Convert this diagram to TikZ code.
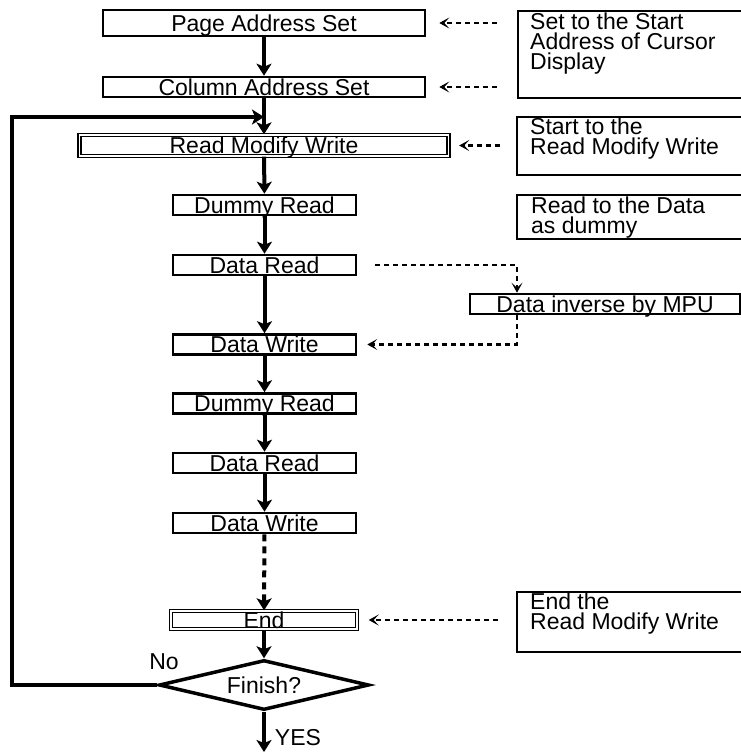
\documentclass[tikz,border=0pt]{standalone}
\usepackage{fontspec}
\setmainfont{Liberation Sans}
\usetikzlibrary{
		arrows.meta,
		shapes.geometric,
		positioning
	}
\newcommand{\chartfont}{\fontsize{23}{23}\selectfont}
\tikzset{
		>={Stealth[length=12pt,width=15pt,inset=3pt]},
		stepbox/.style={draw, line width=2.6pt, inner sep=0pt,
			text height=16.5pt, text depth=0pt, font=\chartfont},
		twinbox/.style={stepbox, double, line width=1.4pt, double distance=1.6pt},
		notebox/.style={draw, line width=2.4pt, anchor=north west, inner sep=0pt},
		notetext/.style={anchor=north west, align=left, inner sep=0pt,
			font=\fontsize{23}{20}\selectfont},
		flow/.style={->, line width=4pt},
		hint/.style={-{Stealth[length=10pt,width=11pt,inset=5pt]},
			line width=2.5pt, dash pattern=on 5pt off 4pt}
	}

\begin{document}
\begin{tikzpicture}[x=1pt, y=-1pt]
          \path[use as bounding box, clip] (0,0) rectangle (741,752);

          % main column
          \node[stepbox, minimum width=322pt, minimum height=26pt] (page) at (264,23) {Page Address Set};
          \node[stepbox, minimum width=322pt, minimum height=20pt] (column) at (264,87) {Column Address Set};
          \node[twinbox, minimum width=369pt, minimum height=21pt] (rmw) at (264,145.5) {Read Modify Write};
          \node[stepbox, minimum width=183pt, minimum height=20pt] (dummy1) at (264.5,205) {Dummy Read};
          \node[stepbox, minimum width=183pt, minimum height=20pt] (read1) at (264.5,265) {Data Read};
          \node[stepbox, minimum width=183pt, minimum height=20pt] (write1) at (264.5,344.5) {Data Write};
          \node[stepbox, minimum width=183pt, minimum height=20pt] (dummy2) at (264.5,403.5) {Dummy Read};
          \node[stepbox, minimum width=183pt, minimum height=20pt] (read2) at (264.5,463) {Data Read};
          \node[stepbox, minimum width=183pt, minimum height=20pt] (write2) at (264.5,523) {Data Write};
          \node[twinbox, minimum width=186pt, minimum height=18pt] (stop) at (264,620) {End};
          \node[diamond, draw, line width=3.5pt, aspect=4.2, inner sep=0pt,
                minimum width=210pt, minimum height=50pt, font=\chartfont] (finish) at (264,685) {Finish?};
          \node[stepbox, minimum width=270pt, minimum height=20pt] (mpu) at (605,304) {Data inverse by MPU};

          \coordinate (merge) at (264,117);
          \coordinate (back) at (12,117);
          \coordinate (exit) at (264,752);

          \node[font=\chartfont, inner sep=0pt] (nolabel) at (164,662) {No};
          \node[font=\chartfont, inner sep=0pt] (yeslabel) at (298,738) {YES};

          % notes on the right
          \node[notebox, minimum width=250pt, minimum height=87pt] (note1) at (517,10) {};
          \node[notebox, minimum width=250pt, minimum height=58pt] (note2) at (516,116) {};
          \node[notebox, minimum width=250pt, minimum height=44pt] (note3) at (516,194) {};
          \node[notebox, minimum width=250pt, minimum height=60pt] (note4) at (516,591) {};

          \node[notetext] (text1) at ([xshift=13pt,yshift=-3pt]note1.north west)
               {Set to the Start\\Address of Cursor\\Display};
          \node[notetext] (text2) at ([xshift=14pt,yshift=-2pt]note2.north west) {Start to the\\Read Modify Write};
          \node[notetext] (text3) at ([xshift=15pt,yshift=-3pt]note3.north west) {Read to the Data\\as dummy};
          \node[notetext] (text4) at ([xshift=14pt,yshift=-2pt]note4.north west) {End the\\Read Modify Write};

          % flow
          \draw[flow] (page) -- (column);
          \draw[flow] (column) -- (rmw);
          \draw[flow] (rmw) -- (dummy1);
          \draw[flow] (dummy1) -- (read1);
          \draw[flow] (read1) -- (write1);
          \draw[flow] (write1) -- (dummy2);
          \draw[flow] (dummy2) -- (read2);
          \draw[flow] (read2) -- (write2);
          \draw[flow, dash pattern=on 7pt off 5pt] (write2) -- (stop);
          \draw[flow] (stop) -- (finish);
          \draw[flow] (finish) -- (exit);
          \draw[flow] (finish.west) -| (back) -- (merge);

          % hints
          \draw[hint, shorten >=13pt, shorten <=20pt] (note1.west |- page.east) -- (page.east);
          \draw[hint, shorten >=13pt, shorten <=20pt] (note1.west |- column.east) -- (column.east);
          \draw[hint, shorten >=10pt, shorten <=16pt] (note2.west |- rmw.east) -- (rmw.east);
          \draw[hint, shorten >=11pt, shorten <=18pt] (note4.west |- stop.east) -- (stop.east);
          \draw[hint] ([xshift=18pt]read1.east) -| ([xshift=-88pt]mpu.north);
          \draw[hint] ([xshift=-88pt]mpu.south) |- ([xshift=10pt]write1.east);

          \end{tikzpicture}
\end{document}
